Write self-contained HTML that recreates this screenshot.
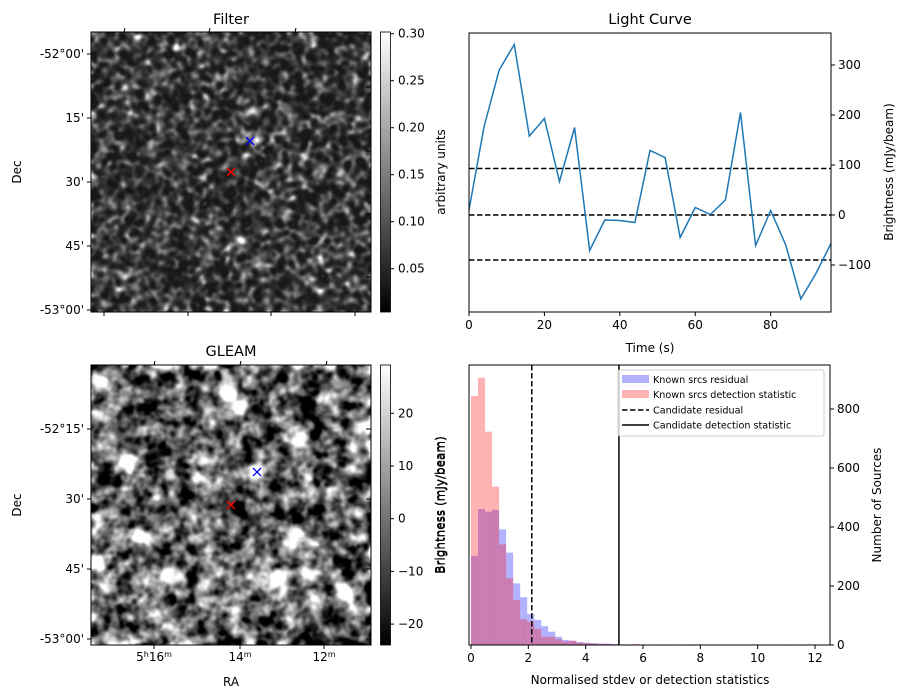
<!DOCTYPE html>
<html><head><meta charset="utf-8">
<style>
body{margin:0;background:#fff;width:907px;height:699px;overflow:hidden;position:relative;font-family:"Liberation Sans","DejaVu Sans",sans-serif}
canvas{position:absolute}
svg{position:absolute;left:0;top:0}
text{font-family:"DejaVu Sans","Liberation Sans",sans-serif;fill:#000}
</style></head><body>
<canvas id="filterImg" width="280" height="280" style="left:91px;top:32px"></canvas>
<canvas id="gleamImg" width="280" height="280" style="left:91px;top:365px"></canvas>
<svg id="fig" width="907" height="699"></svg>
<script>
// Light curve data
const lcTimes=[0,4,8,12,16,20,24,28,32,36,40,44,48,52,56,60,64,68,72,76,80,84,88,92,96];
const lcValues=[10,177,290,341,158,193,67,175,-71,-10,-11,-15,129,115,-45,15,1,30,205,-61,9,-60,-168,-117,-57];
const lcThresholds=[93,0,-90];
const lcXTicks=[0,20,40,60,80];
const lcYTicks=[-100,0,100,200,300];
// Histogram data
const binWidth=0.245;
const redCounts=[844,906,723,537,341,226,153,87,79,55,28,28,20,12,15,8,6,5,3,4,2,2,1,3,1,0,2,0,2,1,2,2,2,0,0,0,0,0,0,0,2,0,0,0,0,2,0,2,2,0];
const blueCounts=[302,461,452,458,392,313,209,162,105,85,64,45,28,17,14,10,8,6,5,4,3,2,2,1,1,0,1,1,0,0,1,2,0,0,0,0,0,0,0,0,0,0,0,0,0,0,0,0,0,0];
const candResidual=2.12, candDetection=5.16;
const histXTicks=[0,2,4,6,8,10,12];
const histYTicks=[0,200,400,600,800];
// Colorbar ticks
const filterCbTicks=[0.05,0.10,0.15,0.20,0.25,0.30];
const gleamCbTicks=[-20,-10,0,10,20];
const decFilter=["-52°00'","15'","30'","45'","-53°00'"];
const decGleam=["-52°15'","30'","45'","-53°00'"];

const NS='http://www.w3.org/2000/svg';
const svg=document.getElementById('fig');
function el(tag,attrs,parent){const e=document.createElementNS(NS,tag);for(const k in attrs)e.setAttribute(k,attrs[k]);(parent||svg).appendChild(e);return e;}
function txt(s,x,y,anchor,parent,extra,fs){const t=el('text',Object.assign({x:x,y:y,'text-anchor':anchor||'middle'},extra||{}),parent);t.style.fontSize=(fs||12)+'px';t.textContent=s;return t;}

// ---------- Light curve ----------
const lcL=469,lcR=831,lcT=33,lcB=312;
const lx=v=>lcL+(v-0)/(96-0)*(lcR-lcL);
const ly=v=>215-v*0.5;
const g1=el('g',{});
lcThresholds.forEach(v=>{const l=el('line',{x1:lcL,x2:lcR,y1:ly(v),y2:ly(v),stroke:'#000','stroke-width':1.5,'stroke-dasharray':'5.5,2.5'},g1);
});
const pl=el('polyline',{points:lcTimes.map((t,i)=>lx(t)+','+ly(lcValues[i])).join(' '),fill:'none',stroke:'#1f77b4','stroke-width':1.5},g1);

el('rect',{x:lcL,y:lcT,width:lcR-lcL,height:lcB-lcT,fill:'none',stroke:'#000','stroke-width':1},g1);
lcXTicks.forEach(v=>{el('line',{x1:lx(v),x2:lx(v),y1:lcB,y2:lcB+4,stroke:'#000'},g1);const t=txt(String(v),lx(v),lcB+17,'middle',g1);});
lcYTicks.forEach(v=>{el('line',{x1:lcR,x2:lcR+4,y1:ly(v),y2:ly(v),stroke:'#000'},g1);const t=txt(v<0?'\u2212'+(-v):String(v),lcR+7,ly(v)+4,'start',g1);});
let t;
t=txt('Light Curve',650,24,'middle',g1,{},14.5);
t=txt('Time (s)',650,352,'middle',g1);
t=txt('Brightness (mJy/beam)',0,0,'middle',g1,{transform:'translate(893,172) rotate(-90)'});

// ---------- Histogram ----------
const hL=469,hR=830,hT=365,hB=645;
const hx=v=>471+v*28.67;
const hy=c=>hB-c*0.295;
const g2=el('g',{});
blueCounts.forEach((c,i)=>{if(!c)return;const r=el('rect',{x:hx(i*binWidth),y:hy(c),width:hx((i+1)*binWidth)-hx(i*binWidth),height:hB-hy(c),fill:'rgba(0,0,255,0.3)'},g2);});
redCounts.forEach((c,i)=>{if(!c)return;const r=el('rect',{x:hx(i*binWidth),y:hy(c),width:hx((i+1)*binWidth)-hx(i*binWidth),height:hB-hy(c),fill:'rgba(255,0,0,0.3)'},g2);});
let ln=el('line',{x1:hx(candResidual),x2:hx(candResidual),y1:hT,y2:hB,stroke:'#000','stroke-width':1.5,'stroke-dasharray':'5.5,2.5'},g2);
ln=el('line',{x1:hx(candDetection),x2:hx(candDetection),y1:hT,y2:hB,stroke:'#000','stroke-width':1.5},g2);
el('rect',{x:hL,y:hT,width:hR-hL,height:hB-hT,fill:'none',stroke:'#000'},g2);
histXTicks.forEach(v=>{el('line',{x1:hx(v),x2:hx(v),y1:hB,y2:hB+4,stroke:'#000'},g2);const t=txt(String(v),hx(v),hB+17,'middle',g2);});
histYTicks.forEach(v=>{el('line',{x1:hR,x2:hR+4,y1:hy(v),y2:hy(v),stroke:'#000'},g2);const t=txt(String(v),hR+7,hy(v)+4,'start',g2);});
t=txt('Normalised stdev or detection statistics',650,684,'middle',g2);
t=txt('Number of Sources',0,0,'middle',g2,{transform:'translate(881,505) rotate(-90)'});
t=txt('Brightness (mJy/beam)',0,0,'middle',g2,{transform:'translate(444,505) rotate(-90)'});
// legend
const lg=el('g',{},g2);
el('rect',{x:618,y:370,width:206,height:66,rx:2,fill:'rgba(255,255,255,0.8)',stroke:'#ccc'},lg);
el('rect',{x:622,y:375,width:27,height:8,fill:'rgba(0,0,255,0.3)'},lg);
el('rect',{x:622,y:390,width:27,height:8,fill:'rgba(255,0,0,0.3)'},lg);
el('line',{x1:622,x2:649,y1:410,y2:410,stroke:'#000','stroke-width':1.5,'stroke-dasharray':'5.5,2.5'},lg);
el('line',{x1:622,x2:649,y1:425,y2:425,stroke:'#000','stroke-width':1.5},lg);
[['Known srcs residual',383],['Known srcs detection statistic',398],['Candidate residual',413.5],['Candidate detection statistic',428.5]].forEach(a=>{const t=txt(a[0],653,a[1],'start',lg,{},9.6);});

// ---------- image panels axes ----------
function panel(top,title,titleY,decLabels,decYs,rightTicks,topTicks,bottomTicks,cbTicks,cbY,cbLabel,cbLabelY,name){
  const g=el('g',{});
  const grad='grad'+name;
  const d=el('defs',{},g);const lgd=el('linearGradient',{id:grad,x1:0,y1:1,x2:0,y2:0},d);
  el('stop',{offset:0,'stop-color':'#000'},lgd);el('stop',{offset:1,'stop-color':'#fff'},lgd);
  el('rect',{x:91,y:top,width:280,height:280,fill:'none',stroke:'#000'},g);
  el('rect',{x:380.5,y:top,width:10,height:280,fill:'url(#'+grad+')',stroke:'#000','stroke-width':0.8},g);
  decLabels.forEach((s,i)=>{el('line',{x1:87,x2:91,y1:decYs[i],y2:decYs[i],stroke:'#000'},g);const t=txt(s,84,decYs[i]+4,'end',g);});
  rightTicks.forEach(y=>el('line',{x1:366,x2:371,y1:y,y2:y,stroke:'#000'},g));
  topTicks.forEach(x=>el('line',{x1:x,x2:x+1,y1:top,y2:top-4,stroke:'#000'},g));
  bottomTicks.forEach(x=>el('line',{x1:x,x2:x,y1:top+280,y2:top+284,stroke:'#000'},g));
  cbTicks.forEach(v=>{const y=cbY(v);el('line',{x1:390.5,x2:394,y1:y,y2:y,stroke:'#000'},g);
    const lbl=v<0?'\u2212'+(-v):(name==='filter-panel'?v.toFixed(2):String(v));
    const t=txt(lbl,398,y+4,'start',g);});
  let t=txt(title,231,titleY,'middle',g,{},14.5);
  t=txt('Dec',0,0,'middle',g,{transform:'translate(21,'+(top+140)+') rotate(-90)'});
  t=txt(cbLabel,0,0,'middle',g,{transform:'translate(445,'+cbLabelY+') rotate(-90)'});
  return g;
}
const gf=panel(32,'Filter',24,decFilter,[54,118,182,246,310],[87,151,214,277],[124,209,295],[104,188,271,355],filterCbTicks,v=>33.7+(0.30-v)*940,'arbitrary units',172,'filter-panel');
const gg=panel(365,'GLEAM',356,decGleam,[429,499,569,639],[429,499,569,639],[154,240,326],[154,240,324],gleamCbTicks,v=>518.7-v*5.27,'Brightness (mJy/beam)',505,'gleam-panel');
// RA labels
[['16',154,'5'],['14',240,''],['12',324,'']].forEach(a=>{
  const t=el('text',{x:a[1],y:661,'text-anchor':'middle'},gg);t.style.fontSize='12px';
  t.innerHTML=(a[2]?'5<tspan dy="-4" style="font-size:8px">h</tspan><tspan dy="4">'+a[0]+'</tspan>':a[0])+'<tspan dy="-4" style="font-size:8px">m</tspan>';
  });
t=txt('RA',231,686,'middle',gg);
function marker(x,y,c,name){const g=el('g',{stroke:c,'stroke-width':1.3});
  el('line',{x1:x-4,y1:y-4,x2:x+4,y2:y+4},g);el('line',{x1:x-4,y1:y+4,x2:x+4,y2:y-4},g);}
marker(250,141,'#00f','filter-blue-marker');marker(231,172,'#f00','filter-red-marker');
marker(257,472,'#00f','gleam-blue-marker');marker(231,505,'#f00','gleam-red-marker');

// ---------- noise images (texture only) ----------
function rng(s){return function(){s|=0;s=s+0x6D2B79F5|0;let t=Math.imul(s^s>>>15,1|s);t=t+Math.imul(t^t>>>7,61|t)^t;return((t^t>>>14)>>>0)/4294967296;}}
function blurred(sigma,seed){const N=280,r=rng(seed);let a=new Float32Array(N*N);for(let i=0;i<N*N;i++)a[i]=r()-0.5;
  const R=Math.ceil(sigma*3),k=[];let ks=0;for(let i=-R;i<=R;i++){const w=Math.exp(-i*i/(2*sigma*sigma));k.push(w);ks+=w;}
  const b=new Float32Array(N*N);
  for(let y=0;y<N;y++)for(let x=0;x<N;x++){let s=0;for(let i=-R;i<=R;i++){const xx=Math.min(N-1,Math.max(0,x+i));s+=a[y*N+xx]*k[i+R];}b[y*N+x]=s/ks;}
  const c=new Float32Array(N*N);
  for(let y=0;y<N;y++)for(let x=0;x<N;x++){let s=0;for(let i=-R;i<=R;i++){const yy=Math.min(N-1,Math.max(0,y+i));s+=b[yy*N+x]*k[i+R];}c[y*N+x]=s/ks;}
  let m=0,v=0;for(let i=0;i<N*N;i++)m+=c[i];m/=N*N;for(let i=0;i<N*N;i++)v+=(c[i]-m)**2;v=Math.sqrt(v/(N*N));
  for(let i=0;i<N*N;i++)c[i]=(c[i]-m)/v;return c;}
function paint(id,fn){const c=document.getElementById(id).getContext('2d');const im=c.createImageData(280,280);
  for(let i=0;i<280*280;i++){const v=Math.max(0,Math.min(255,fn(i)));im.data[i*4]=im.data[i*4+1]=im.data[i*4+2]=v;im.data[i*4+3]=255;}c.putImageData(im,0,0);}
const fn1=blurred(2.2,11);
paint('filterImg',i=>{const z=fn1[i];return 55+32*z+8*z*z;});
const gn1=blurred(3.8,7),gn2=blurred(1.8,31);
const blobs=[[227,393],[237,409],[366,425],[128,464],[257,473],[140,537],[295,535],[97,560],[168,575],[277,579],[100,378],[345,593]];
paint('gleamImg',i=>{const x=i%280+91,y=Math.floor(i/280)+365;const z=0.85*gn1[i]+0.45*gn2[i];let g=100+68*z;
  blobs.forEach(b=>{const dx=x-b[0],dy=y-b[1];g+=300*Math.exp(-(dx*dx+dy*dy)/60);});return g;});
</script>
</body></html>
